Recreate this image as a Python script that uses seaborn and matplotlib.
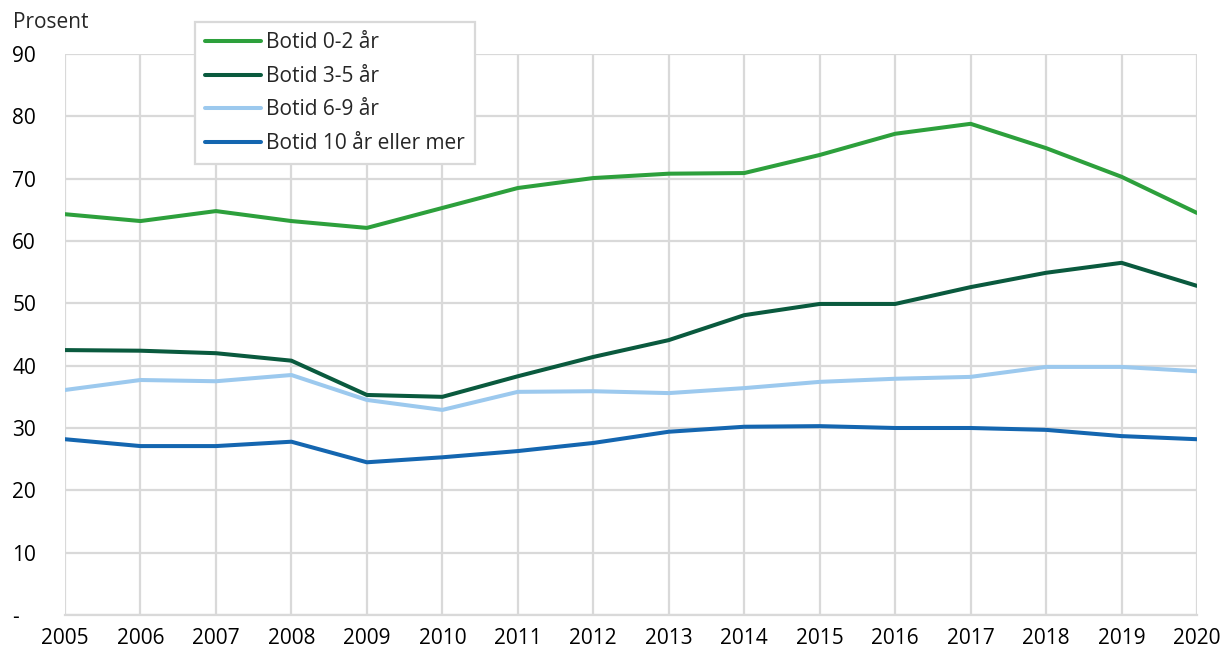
import matplotlib
matplotlib.use("Agg")
import matplotlib.pyplot as plt
import seaborn as sns
import pandas as pd

years = list(range(2005, 2021))
botid_0_2 = [64.3, 63.2, 64.8, 63.2, 62.1, 65.3, 68.5, 70.1, 70.8, 70.9, 73.8, 77.2, 78.8, 74.9, 70.3, 64.5]
botid_3_5 = [42.5, 42.4, 42.0, 40.8, 35.3, 35.0, 38.3, 41.4, 44.1, 48.1, 49.9, 49.9, 52.6, 54.9, 56.5, 52.8]
botid_6_9 = [36.1, 37.7, 37.5, 38.5, 34.5, 32.9, 35.8, 35.9, 35.6, 36.4, 37.4, 37.9, 38.2, 39.8, 39.8, 39.1]
botid_10 = [28.2, 27.1, 27.1, 27.8, 24.5, 25.3, 26.3, 27.6, 29.4, 30.2, 30.3, 30.0, 30.0, 29.7, 28.7, 28.2]
series_names = ["Botid 0-2 år", "Botid 3-5 år", "Botid 6-9 år", "Botid 10 år eller mer"]
colors = ["#2DA03C", "#0A5A3E", "#9CC9EE", "#1466B0"]
y_ticks = [0, 10, 20, 30, 40, 50, 60, 70, 80, 90]
y_tick_labels = ["-", "10", "20", "30", "40", "50", "60", "70", "80", "90"]

rows = []
for name, vals in zip(series_names, [botid_0_2, botid_3_5, botid_6_9, botid_10]):
    for y, v in zip(years, vals):
        rows.append({"År": y, "Verdi": v, "Serie": name})
df = pd.DataFrame(rows)

sns.set_style("white")
plt.rcParams["font.family"] = ["Open Sans", "DejaVu Sans"]

FS = 15
fig = plt.figure(figsize=(12.26, 6.48), dpi=100)
ax = fig.add_axes([65/1226, 33/648, (1197-65)/1226, (615-54)/648])

sns.lineplot(data=df, x="År", y="Verdi", hue="Serie", hue_order=series_names,
             palette=colors, linewidth=2.9, ax=ax, legend=True)

ax.set_xlim(2005, 2020)
ax.set_ylim(0, 90)
ax.set_xticks(years)
ax.set_xticklabels([str(y) for y in years])
ax.set_yticks(y_ticks)
ax.set_yticklabels(y_tick_labels)
ax.grid(True, color="#D9D9D9", linewidth=1.6)
ax.set_axisbelow(True)
for s in ["top", "right", "left"]:
    ax.spines[s].set_visible(False)
ax.spines["bottom"].set_color("#D9D9D9")
ax.spines["bottom"].set_linewidth(1.6)
ax.tick_params(axis="both", length=0, labelsize=FS, colors="#000000")
ax.tick_params(axis="x", pad=9)
ax.tick_params(axis="y", pad=38)
for lab in ax.get_yticklabels():
    lab.set_horizontalalignment("left")
ax.set_xlabel("")
ax.set_ylabel("")

fig.text(13/1226, 1 - 23/648, "Prosent", fontsize=FS, va="center", ha="left")

leg = ax.legend(loc="upper left", bbox_to_anchor=(195/1226, 1 - 22/648),
                bbox_transform=fig.transFigure, fontsize=FS, frameon=True,
                fancybox=False, edgecolor="#D9D9D9", framealpha=1,
                handlelength=2.65, handletextpad=0.25, labelspacing=0.6,
                borderpad=0.5, borderaxespad=0)
leg.get_frame().set_linewidth(1.6)
for line in leg.get_lines():
    line.set_linewidth(2.9)

fig.savefig("out.png", dpi=100)
